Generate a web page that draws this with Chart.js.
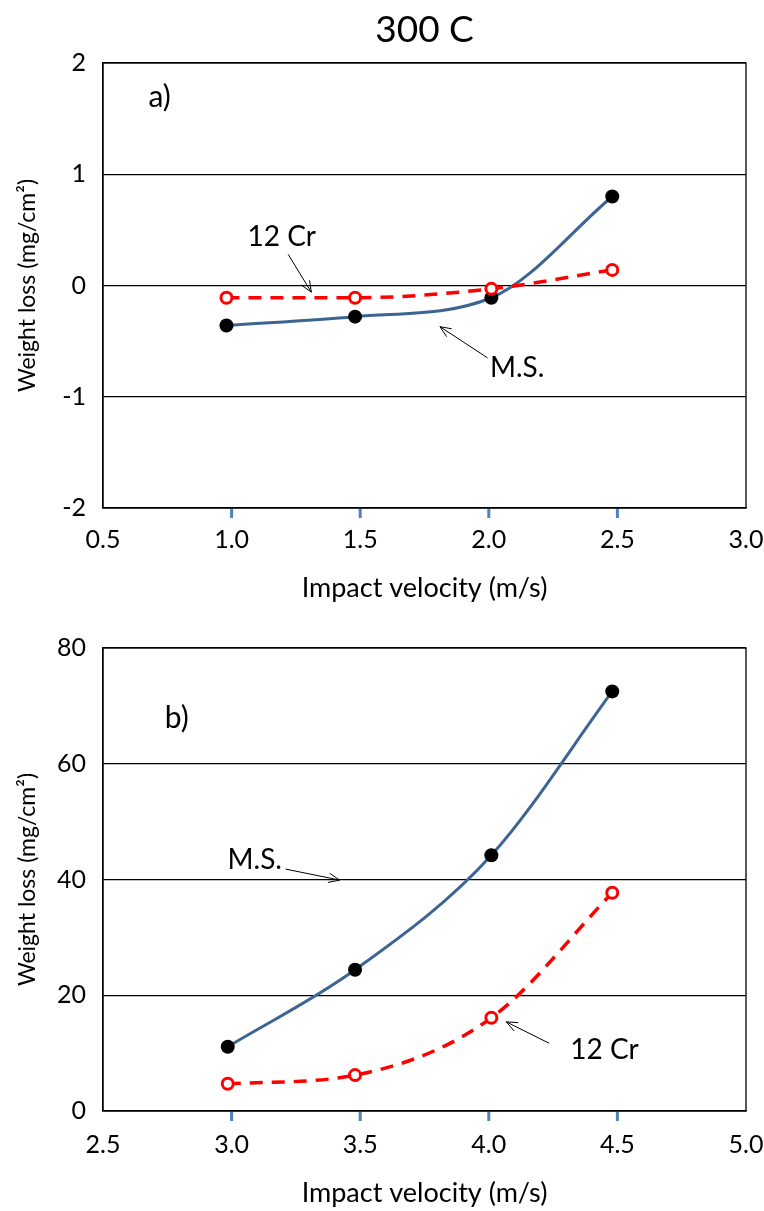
<!DOCTYPE html>
<html>
<head>
<meta charset="utf-8">
<script src="https://cdn.jsdelivr.net/npm/chart.js@4"></script>
<style>
  body { margin: 0; background: #fff; }
  canvas { position: absolute; left: 0; }
</style>
</head>
<body>
<canvas id="grafico-a" width="764" height="610" style="top:0"></canvas>
<canvas id="grafico-b" width="764" height="601" style="top:610px"></canvas>
<script>
// dados
var velA = [0.98, 1.48, 2.01, 2.48];
var msA = [-0.36, -0.28, -0.11, 0.80];
var crA = [-0.11, -0.11, -0.03, 0.14];

var velB = [2.985, 3.48, 4.01, 4.48];
var msB = [11.1, 24.4, 44.2, 72.5];
var crB = [4.7, 6.2, 16.1, 37.7];

var xTicksA = [0.5, 1.0, 1.5, 2.0, 2.5, 3.0];
var yTicksA = [-2, -1, 0, 1, 2];
var xTicksB = [2.5, 3.0, 3.5, 4.0, 4.5, 5.0];
var yTicksB = [0, 20, 40, 60, 80];

var marcasA = [1.0, 1.5, 2.0, 2.5];
var marcasB = [3.0, 3.5, 4.0, 4.5];

var FONTE = 'Lato, "Open Sans", sans-serif';

function pares(xs, ys) {
    return xs.map(function(x, i) { return {x: x, y: ys[i]}; });
}

// título, moldura, marcas azuis, rótulos e setas
var extras = {
    id: 'extras',
    afterDraw: function(chart) {
        var o = chart.options.plugins.extras;
        var ctx = chart.ctx, a = chart.chartArea;
        var sx = chart.scales.x, sy = chart.scales.y;
        ctx.save();
        ctx.strokeStyle = '#000';
        ctx.lineWidth = 1.3;
        ctx.strokeRect(a.left, a.top, a.right - a.left, a.bottom - a.top);

        ctx.fillStyle = '#4f81bd';
        o.marcas.forEach(function(v) {
            var px = sx.getPixelForValue(v);
            ctx.fillRect(px - 1.5, a.bottom + 1, 3, 9);
        });

        ctx.fillStyle = '#000';
        ctx.textAlign = 'center';
        ctx.textBaseline = 'middle';
        if (o.titulo) {
            ctx.font = '37px ' + FONTE;
            ctx.fillText(o.titulo, (a.left + a.right) / 2, 30);
        }
        o.textos.forEach(function(t) {
            ctx.font = t.size + 'px ' + FONTE;
            ctx.fillText(t.text, sx.getPixelForValue(t.x), sy.getPixelForValue(t.y));
        });

        ctx.lineWidth = 1;
        o.setas.forEach(function(s) {
            var x1 = sx.getPixelForValue(s[0]), y1 = sy.getPixelForValue(s[1]);
            var x2 = sx.getPixelForValue(s[2]), y2 = sy.getPixelForValue(s[3]);
            var ang = Math.atan2(y2 - y1, x2 - x1);
            ctx.beginPath();
            ctx.moveTo(x1, y1);
            ctx.lineTo(x2, y2);
            ctx.moveTo(x2 - 12 * Math.cos(ang - 0.4), y2 - 12 * Math.sin(ang - 0.4));
            ctx.lineTo(x2, y2);
            ctx.lineTo(x2 - 12 * Math.cos(ang + 0.4), y2 - 12 * Math.sin(ang + 0.4));
            ctx.stroke();
        });
        ctx.restore();
    }
};

function montarGrafico(id, cfg) {
    var ctx = document.getElementById(id).getContext('2d');
    return new Chart(ctx, {
        type: 'line',
        data: {
            datasets: [{
                label: '12 Cr',
                data: pares(cfg.vel, cfg.cr),
                borderColor: '#ff0000',
                borderWidth: 3.5,
                borderDash: [13, 9],
                cubicInterpolationMode: 'monotone',
                pointRadius: 5.5,
                pointBorderWidth: 3,
                pointBorderColor: '#ff0000',
                pointBackgroundColor: '#ffffff',
                order: 0
            }, {
                label: 'M.S.',
                data: pares(cfg.vel, cfg.ms),
                borderColor: '#3d6594',
                borderWidth: 3,
                cubicInterpolationMode: 'monotone',
                pointRadius: 7,
                pointBorderWidth: 0,
                pointBackgroundColor: '#000000',
                order: 1
            }]
        },
        options: {
            responsive: false,
            animation: false,
            layout: { padding: { top: cfg.topo, right: 18, left: 0, bottom: 0 } },
            plugins: {
                legend: { display: false },
                tooltip: { enabled: false },
                title: { display: false },
                extras: { titulo: cfg.titulo, marcas: cfg.marcas, textos: cfg.textos, setas: cfg.setas }
            },
            scales: {
                x: {
                    type: 'linear',
                    min: cfg.xTicks[0],
                    max: cfg.xTicks[cfg.xTicks.length - 1],
                    afterBuildTicks: function(s) { s.ticks = cfg.xTicks.map(function(v) { return {value: v}; }); },
                    afterFit: function(s) { s.height = cfg.alturaX; s.paddingLeft = 0; s.paddingRight = 0; },
                    grid: { display: false, drawTicks: false },
                    border: { display: true, color: '#000', width: 1.3 },
                    ticks: {
                        color: '#000',
                        padding: cfg.padX,
                        font: { family: FONTE, size: 25 },
                        callback: function(v) { return Number(v).toFixed(1); }
                    },
                    title: {
                        display: true,
                        text: 'Impact velocity (m/s)',
                        color: '#000',
                        font: { family: FONTE, size: 27 },
                        padding: { top: 0, bottom: cfg.padTituloX }
                    }
                },
                y: {
                    min: cfg.yTicks[0],
                    max: cfg.yTicks[cfg.yTicks.length - 1],
                    afterBuildTicks: function(s) { s.ticks = cfg.yTicks.map(function(v) { return {value: v}; }); },
                    afterFit: function(s) { s.width = 103; },
                    grid: { color: '#000', lineWidth: 1.2, drawTicks: false },
                    border: { display: true, color: '#000', width: 1.3 },
                    ticks: {
                        color: '#000',
                        padding: 17,
                        font: { family: FONTE, size: 25 }
                    },
                    title: {
                        display: true,
                        text: 'Weight loss (mg/cm²)',
                        color: '#000',
                        font: { family: FONTE, size: 23 },
                        padding: { top: 14, bottom: 0 }
                    }
                }
            }
        },
        plugins: [extras]
    });
}

document.addEventListener('DOMContentLoaded', function() {
    montarGrafico('grafico-a', {
        vel: velA, ms: msA, cr: crA,
        xTicks: xTicksA, yTicks: yTicksA, marcas: marcasA,
        titulo: '300 C', topo: 63, alturaX: 102, padX: 17, padTituloX: 6,
        textos: [
            {text: 'a)', x: 0.72, y: 1.69, size: 30},
            {text: '12 Cr', x: 1.195, y: 0.44, size: 28},
            {text: 'M.S.', x: 2.11, y: -0.74, size: 28}
        ],
        setas: [
            [1.22, 0.28, 1.31, -0.06],
            [1.995, -0.65, 1.81, -0.37]
        ]
    });

    montarGrafico('grafico-b', {
        vel: velB, ms: msB, cr: crB,
        xTicks: xTicksB, yTicks: yTicksB, marcas: marcasB,
        titulo: '', topo: 38, alturaX: 100, padX: 19, padTituloX: 2,
        textos: [
            {text: 'b)', x: 2.787, y: 67.9, size: 30},
            {text: 'M.S.', x: 3.09, y: 43.4, size: 28},
            {text: '12 Cr', x: 4.45, y: 10.5, size: 28}
        ],
        setas: [
            [3.21, 41.8, 3.42, 39.9],
            [4.235, 11.7, 4.068, 15.4]
        ]
    });
});
</script>
</body>
</html>
